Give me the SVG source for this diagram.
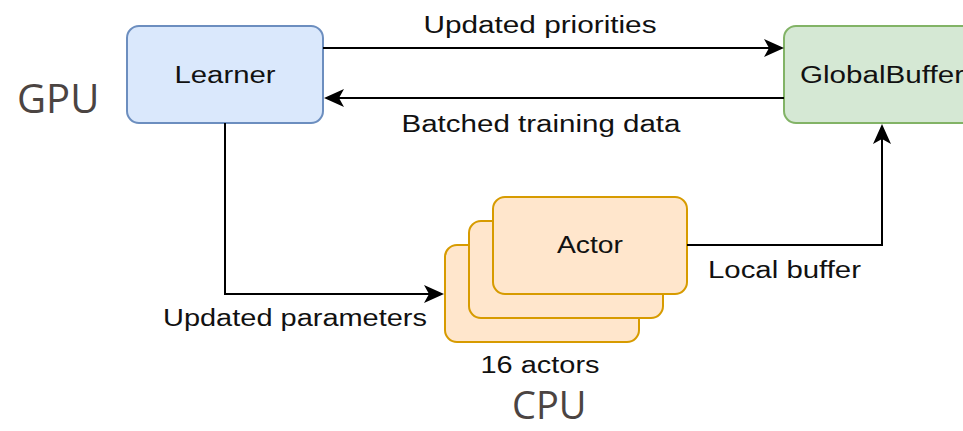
<svg xmlns="http://www.w3.org/2000/svg" width="963" height="431" viewBox="0 0 963 431">
  <defs>
    <marker id="arr" markerUnits="userSpaceOnUse" viewBox="0 0 20 18" refX="10" refY="9" markerWidth="20" markerHeight="18" orient="auto">
      <path d="M0,0 L20,9 L0,18 L5,9 Z" fill="#000"/>
    </marker>
    <style>
      .lbl { font-family: "Liberation Sans", Arial, sans-serif; font-size: 23px; fill: #111; }
      .big { font-family: "Open Sans", "Liberation Sans", sans-serif; font-size: 40px; fill: #4b4442; }
      .edge { fill: none; stroke: #000; stroke-width: 2; }
      .actor { fill: #ffe6cc; stroke: #d79b00; stroke-width: 2; }
    </style>
  </defs>
  <rect width="963" height="431" fill="#fff"/>

  <g id="gpu-label"><text class="big" x="17" y="113">GPU</text></g>
  <g id="cpu-label"><text class="big" x="512" y="419" style="font-size:38px">CPU</text></g>

  <g id="learner">
    <rect x="127" y="26" width="196" height="97" rx="12" fill="#dae8fc" stroke="#6c8ebf" stroke-width="2"/>
    <text class="lbl" x="225" y="83" text-anchor="middle" textLength="101" lengthAdjust="spacingAndGlyphs">Learner</text>
  </g>

  <g id="globalbuffer">
    <rect x="784" y="26" width="196" height="97" rx="12" fill="#d5e8d4" stroke="#82b366" stroke-width="2"/>
    <text class="lbl" x="882" y="83" text-anchor="middle" textLength="164" lengthAdjust="spacingAndGlyphs">GlobalBuffer</text>
  </g>

  <g id="actors">
    <rect class="actor" x="445" y="245" width="194" height="97" rx="12"/>
    <rect class="actor" x="469" y="221" width="194" height="97" rx="12"/>
    <rect class="actor" x="493" y="197" width="194" height="97" rx="12"/>
    <text class="lbl" x="590" y="253" text-anchor="middle" textLength="66" lengthAdjust="spacingAndGlyphs">Actor</text>
    <text class="lbl" x="540" y="373" text-anchor="middle" textLength="119" lengthAdjust="spacingAndGlyphs">16 actors</text>
  </g>

  <g id="connectors">
    <path class="edge" d="M323,48 L774,48" marker-end="url(#arr)"/>
    <text class="lbl" x="540" y="33" text-anchor="middle" textLength="233" lengthAdjust="spacingAndGlyphs">Updated priorities</text>

    <path class="edge" d="M784,98 L334,98" marker-end="url(#arr)"/>
    <text class="lbl" x="541" y="132" text-anchor="middle" textLength="279" lengthAdjust="spacingAndGlyphs">Batched training data</text>

    <path class="edge" d="M225,123 L225,294 L434,294" marker-end="url(#arr)"/>
    <text class="lbl" x="163" y="326" textLength="264" lengthAdjust="spacingAndGlyphs">Updated parameters</text>

    <path class="edge" d="M687,245 L882,245 L882,134" marker-end="url(#arr)"/>
    <text class="lbl" x="708" y="278" textLength="153" lengthAdjust="spacingAndGlyphs">Local buffer</text>
  </g>
</svg>
